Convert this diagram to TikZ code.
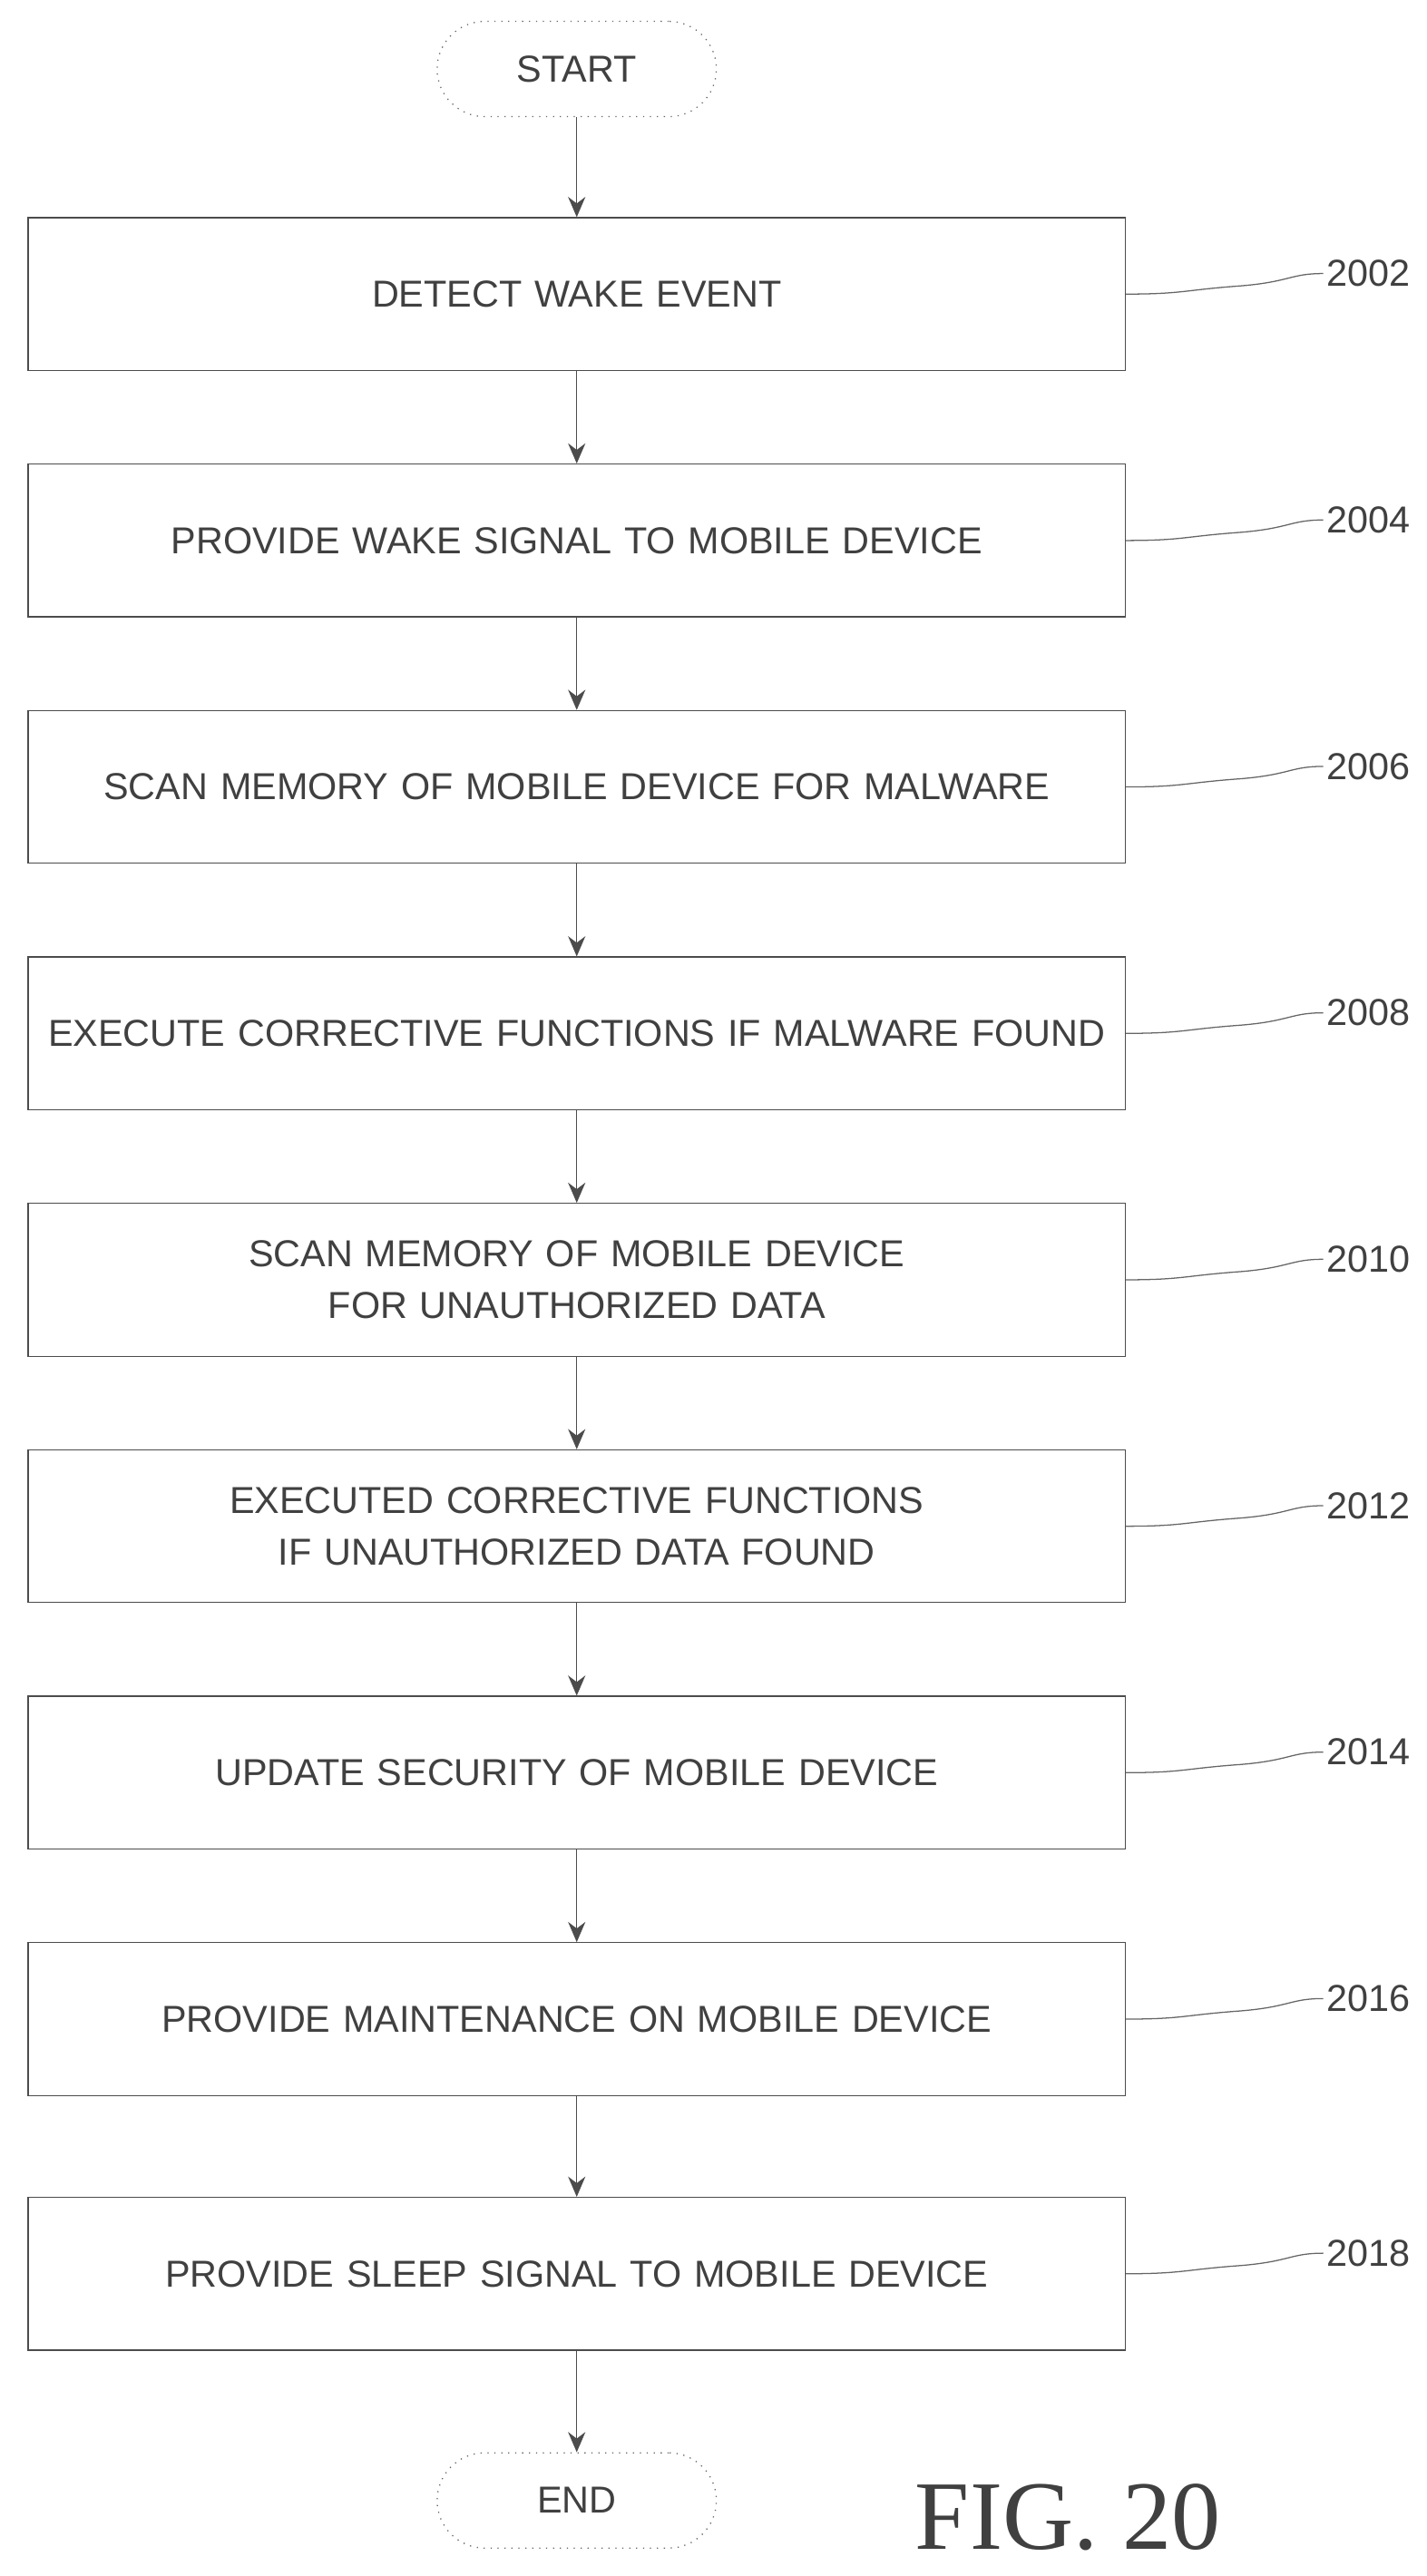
\documentclass[tikz,border=0pt]{standalone}
\usepackage{fontspec}
\setmainfont{Liberation Sans}
\newfontfamily\figfont{Liberation Serif}
\usetikzlibrary{arrows.meta}
\tikzset{
  stepbox/.style={draw=black!70, text width=13.0cm, inner xsep=0.18cm, minimum height=1.86cm, align=center, font=\fontsize{13}{18}\selectfont, text=black!75},
  term/.style={draw=black!60, dotted, rounded corners=0.58cm, minimum width=3.4cm, minimum height=1.16cm, font=\fontsize{13}{17}\selectfont, text=black!75},
  flow/.style={draw=black!70, -{Stealth[length=7pt,width=6pt]}},
  refnum/.style={anchor=west, inner xsep=1pt, font=\fontsize{13}{16}\selectfont, text=black!75}
}
\begin{document}
\begin{tikzpicture}[x=0.02cm, y=-0.02cm]
    % page frame
    \useasboundingbox (0,0) rectangle (868,1568);
    % terminals
    \node[term] (start) at (351, 42) {START};
    \node[term] (end) at (351, 1522) {END};
    % steps
    \node[stepbox] (s2002) at (351, 179) {DETECT WAKE EVENT};
    \node[stepbox] (s2004) at (351, 329) {PROVIDE WAKE SIGNAL TO MOBILE DEVICE};
    \node[stepbox] (s2006) at (351, 479) {SCAN MEMORY OF MOBILE DEVICE FOR MALWARE};
    \node[stepbox] (s2008) at (351, 629) {EXECUTE CORRECTIVE FUNCTIONS IF MALWARE FOUND};
    \node[stepbox] (s2010) at (351, 779) {SCAN MEMORY OF MOBILE DEVICE\\FOR UNAUTHORIZED DATA};
    \node[stepbox] (s2012) at (351, 929) {EXECUTED CORRECTIVE FUNCTIONS\\IF UNAUTHORIZED DATA FOUND};
    \node[stepbox] (s2014) at (351, 1079) {UPDATE SECURITY OF MOBILE DEVICE};
    \node[stepbox] (s2016) at (351, 1229) {PROVIDE MAINTENANCE ON MOBILE DEVICE};
    \node[stepbox] (s2018) at (351, 1384) {PROVIDE SLEEP SIGNAL TO MOBILE DEVICE};
    % arrows
    \draw[flow] (start) -- (s2002);
    \draw[flow] (s2002) -- (s2004);
    \draw[flow] (s2004) -- (s2006);
    \draw[flow] (s2006) -- (s2008);
    \draw[flow] (s2008) -- (s2010);
    \draw[flow] (s2010) -- (s2012);
    \draw[flow] (s2012) -- (s2014);
    \draw[flow] (s2014) -- (s2016);
    \draw[flow] (s2016) -- (s2018);
    \draw[flow] (s2018) -- (end);
    % reference numerals
    \foreach \s in {2002,2004,2006,2008,2010,2012,2014,2016,2018} {
        \node[refnum] (n\s) at ([xshift=2.4cm, yshift=0.25cm]s\s.east) {\s};
        \draw[black!60] (s\s.east) .. controls +(0.7cm,0) and +(-0.7cm,-0.05cm) .. ([xshift=1.4cm, yshift=0.1cm]s\s.east) .. controls +(0.6cm,0.05cm) and +(-0.4cm,0) .. (n\s.west);
    }
    % figure label
    \node[font=\figfont\fontsize{34}{38}\selectfont, text=black!75] (fig) at (650, 1532) {FIG. 20};
\end{tikzpicture}
\end{document}
